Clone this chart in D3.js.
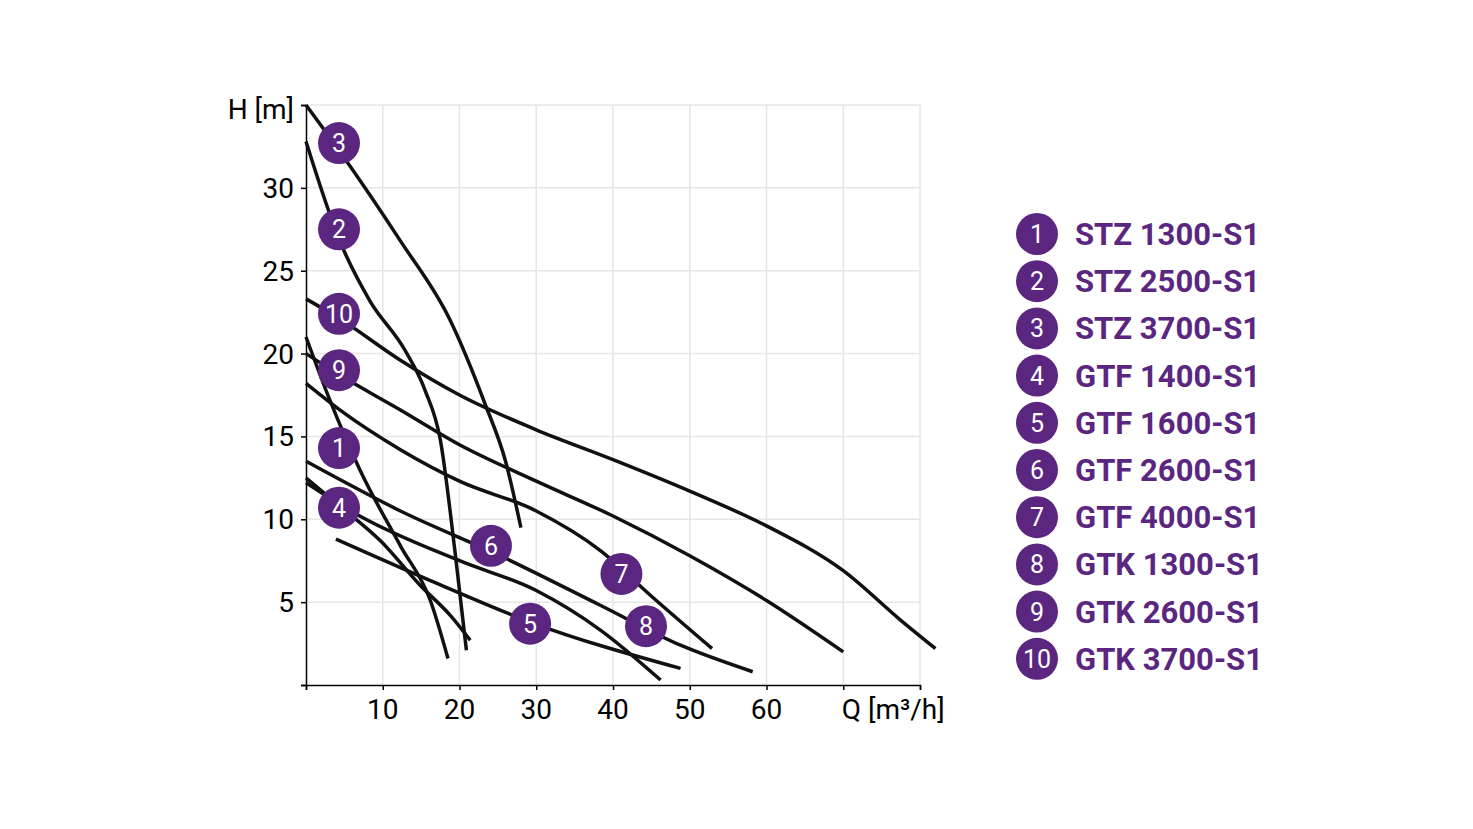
<!DOCTYPE html>
<html><head><meta charset="utf-8">
<script src="https://cdn.jsdelivr.net/npm/d3@7"></script>
<style>body{margin:0;background:#fff}text{font-family:"Liberation Sans Narrow","Roboto",sans-serif}</style>
</head><body>
<script>
// pump curves: [Q, H] points
var curve1 = [[0,21],[3.1,17.2],[7,13],[12.3,8.4],[16.2,5.1],[18.5,1.6]];
var curve2 = [[0,32.8],[4.4,26.8],[8.3,23.2],[12.9,20.2],[15.5,17.8],[17.5,14.8],[19.4,8.1],[20.9,2.1]];
var curve3 = [[0,35],[4.4,32.2],[12.3,26.8],[18.8,22],[23.3,17],[26,13.5],[28,9.5]];
var curve4 = [[0,12.5],[4.4,10.8],[9.7,8.7],[14.9,6],[18.8,4.2],[21.4,2.7]];
var curve5 = [[3.9,8.8],[16.2,6.3],[29.2,3.8],[48.8,1]];
var curve6 = [[0,12.2],[7,10.2],[20,7.5],[30,5.7],[38.4,3.3],[46.2,0.3]];
var curve7 = [[0,18.2],[4.4,16.6],[12.3,14.2],[20,12.3],[30,10.5],[38.4,8.1],[44.9,5.4],[52.9,2.2]];
var curve8 = [[0,13.5],[12.3,10.5],[25.3,7.8],[38.4,4.8],[48.8,2.4],[58.2,0.8]];
var curve9 = [[0,20],[4.4,18.7],[12.3,16.6],[20,14.5],[30,12.3],[40,10.2],[50,7.8],[60,5.1],[70,2]];
var curve10 = [[0,23.3],[4.4,22.1],[12.3,19.6],[20,17.5],[30,15.4],[40,13.6],[50,11.7],[60,9.6],[70,6.9],[77.5,3.9],[82,2.2]];
var curves = [curve1,curve2,curve3,curve4,curve5,curve6,curve7,curve8,curve9,curve10];

var badgeIds = [1,2,3,4,5,6,7,8,9,10];
var badgePos = [[4.3,14.3],[4.3,27.5],[4.3,32.7],[4.3,10.7],[29.2,3.7],[24.1,8.4],[41.1,6.7],[44.3,3.55],[4.3,19],[4.3,22.4]];
var models = ["STZ 1300-S1","STZ 2500-S1","STZ 3700-S1","GTF 1400-S1","GTF 1600-S1","GTF 2600-S1","GTF 4000-S1","GTK 1300-S1","GTK 2600-S1","GTK 3700-S1"];
var xTicks = [10,20,30,40,50,60];
var yTicks = [5,10,15,20,25,30];

var purple = "#5a2680";
var svg = d3.select("body").append("svg").attr("width",1473).attr("height",829);
var x = d3.scaleLinear().domain([0,80]).range([306,920]);
var y = d3.scaleLinear().domain([0,35]).range([685,105]);

// grid
var g = svg.append("g");
g.selectAll("line.vx").data(d3.range(10,90,10)).enter().append("line")
  .attr("x1",d=>x(d)).attr("x2",d=>x(d)).attr("y1",y(0)).attr("y2",y(35))
  .attr("stroke","#e6e6e6").attr("stroke-width",1.5);
g.selectAll("line.hy").data(d3.range(5,40,5)).enter().append("line")
  .attr("x1",x(0)).attr("x2",x(80)).attr("y1",d=>y(d)).attr("y2",d=>y(d))
  .attr("stroke","#e6e6e6").attr("stroke-width",1.5);

// axes
var xa = svg.append("g").attr("transform","translate(0,"+y(0)+")")
  .call(d3.axisBottom(x).tickValues(d3.range(0,90,10)).tickSize(5).tickFormat(""));
var ya = svg.append("g").attr("transform","translate("+x(0)+",0)")
  .call(d3.axisLeft(y).tickValues(d3.range(0,40,5)).tickSize(5).tickFormat(""));
[xa,ya].forEach(a=>{a.select(".domain").attr("stroke","#000").attr("stroke-width",1.5);a.selectAll(".tick line").attr("stroke","#000").attr("stroke-width",1.5);});

svg.selectAll("text.xt").data(xTicks).enter().append("text")
  .attr("x",d=>x(d)).attr("y",719).attr("text-anchor","middle").attr("font-size",28).text(d=>d);
svg.append("text").attr("x",x(70)+50).attr("y",719).attr("text-anchor","middle").attr("font-size",28).text("Q [m³/h]");
svg.selectAll("text.yt").data(yTicks).enter().append("text")
  .attr("x",294).attr("y",d=>y(d)+10).attr("text-anchor","end").attr("font-size",28).text(d=>d);
svg.append("text").attr("x",294).attr("y",y(35)+14).attr("text-anchor","end").attr("font-size",28).text("H [m]");

// curves
var line = d3.line().x(d=>x(d[0])).y(d=>y(d[1])).curve(d3.curveMonotoneX);
svg.selectAll("path.c").data(curves).enter().append("path")
  .attr("d",line).attr("fill","none").attr("stroke","#111").attr("stroke-width",3.5);

// badges
var b = svg.selectAll("g.b").data(badgeIds).enter().append("g")
  .attr("transform",(d,i)=>"translate("+x(badgePos[i][0])+","+y(badgePos[i][1])+")");
b.append("circle").attr("r",21).attr("fill",purple);
b.append("text").attr("text-anchor","middle").attr("y",9).attr("fill","#fff").attr("font-size",25).text(d=>d);

// legend
var lg = svg.selectAll("g.l").data(models).enter().append("g")
  .attr("transform",(d,i)=>"translate(1037,"+(234+i*47.2)+")");
lg.append("circle").attr("r",21).attr("fill",purple);
lg.append("text").attr("text-anchor","middle").attr("y",9).attr("fill","#fff").attr("font-size",25).text((d,i)=>i+1);
lg.append("text").attr("x",38).attr("y",11).attr("fill",purple).attr("font-size",31).attr("font-weight","bold").text(d=>d);
</script>
</body></html>
